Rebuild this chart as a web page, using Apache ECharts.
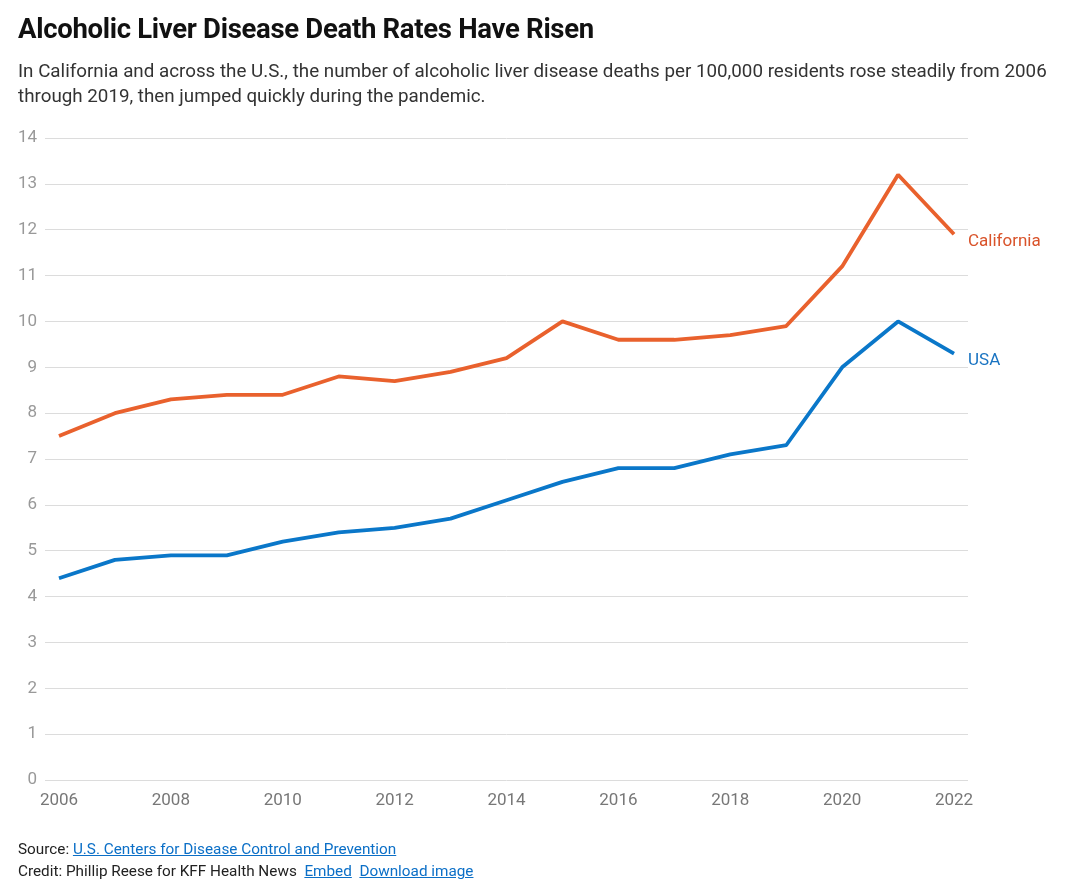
<!DOCTYPE html>
<html>
<head>
<meta charset="utf-8">
<script src="https://cdn.jsdelivr.net/npm/echarts@6/dist/echarts.min.js"></script>
<style>
  html, body { margin: 0; padding: 0; background: #fff; }
  body { width: 1071px; height: 888px; position: relative; overflow: hidden; font-family: "Liberation Sans Narrow", "Roboto", "Noto Sans", sans-serif; }
  #chart { position: absolute; left: 0; top: 0; width: 1071px; height: 888px; }
  .title { position: absolute; left: 18px; top: 12px; font-size: 27.5px; font-weight: bold; color: #111; white-space: nowrap; letter-spacing: -0.3px; }
  .sub { position: absolute; left: 18px; top: 59px; font-size: 18.8px; line-height: 25px; color: #333; white-space: nowrap; }
  .foot { position: absolute; left: 18px; font-size: 15.3px; color: #222; white-space: nowrap; }
  .foot a { color: #0b6fc7; text-decoration: underline; }
</style>
</head>
<body>
<div id="chart"></div>
<div class="title">Alcoholic Liver Disease Death Rates Have Risen</div>
<div class="sub">In California and across the U.S., the number of alcoholic liver disease deaths per 100,000 residents rose steadily from 2006<br>through 2019, then jumped quickly during the pandemic.</div>
<div class="foot" style="top:840px">Source: <a>U.S. Centers for Disease Control and Prevention</a></div>
<div class="foot" style="top:862px">Credit: Phillip Reese for KFF Health News&nbsp; <a>Embed</a>&nbsp; <a>Download image</a></div>
<script>
const years = [2006, 2007, 2008, 2009, 2010, 2011, 2012, 2013, 2014, 2015, 2016, 2017, 2018, 2019, 2020, 2021, 2022];
const california = [7.5, 8.0, 8.3, 8.4, 8.4, 8.8, 8.7, 8.9, 9.2, 10.0, 9.6, 9.6, 9.7, 9.9, 11.2, 13.2, 11.9];
const usa = [4.4, 4.8, 4.9, 4.9, 5.2, 5.4, 5.5, 5.7, 6.1, 6.5, 6.8, 6.8, 7.1, 7.3, 9.0, 10.0, 9.3];
const xTicks = [2006, 2008, 2010, 2012, 2014, 2016, 2018, 2020, 2022];
const yTicks = [0, 1, 2, 3, 4, 5, 6, 7, 8, 9, 10, 11, 12, 13, 14];

const font = '"Liberation Sans Narrow", "Roboto", "Noto Sans", sans-serif';
const chart = echarts.init(document.getElementById('chart'), null, { renderer: 'canvas' });
const pair = (arr) => years.map((y, i) => [y, arr[i]]);
chart.setOption({
  animation: false,
  grid: { left: 45, right: 103, top: 138, bottom: 108, containLabel: false },
  xAxis: {
    type: 'value', min: 2005.75, max: 2022.25,
    axisLine: { show: false }, axisTick: { show: false }, splitLine: { show: false },
    axisLabel: { customValues: xTicks, color: '#777', fontSize: 17, fontFamily: font, margin: 12, formatter: v => String(v) }
  },
  yAxis: {
    type: 'value', min: 0, max: 14, interval: 1,
    axisLine: { show: false }, axisTick: { show: false },
    splitLine: { lineStyle: { color: '#dcdcdc', width: 1 } },
    axisLabel: { color: '#999', fontSize: 17, fontFamily: font, margin: 8 }
  },
  series: [
    { name: 'California', type: 'line', data: pair(california), symbol: 'none',
      lineStyle: { color: '#e9612d', width: 3.8 }, itemStyle: { color: '#e9612d' },
      endLabel: { show: true, formatter: '{a}', color: '#d9532a', fontSize: 17, fontFamily: font, distance: 14, offset: [0, 7] } },
    { name: 'USA', type: 'line', data: pair(usa), symbol: 'none',
      lineStyle: { color: '#0a77c9', width: 3.8 }, itemStyle: { color: '#0a77c9' },
      endLabel: { show: true, formatter: '{a}', color: '#1a74c2', fontSize: 17, fontFamily: font, distance: 14, offset: [0, 7] } }
  ]
});
</script>
</body>
</html>
